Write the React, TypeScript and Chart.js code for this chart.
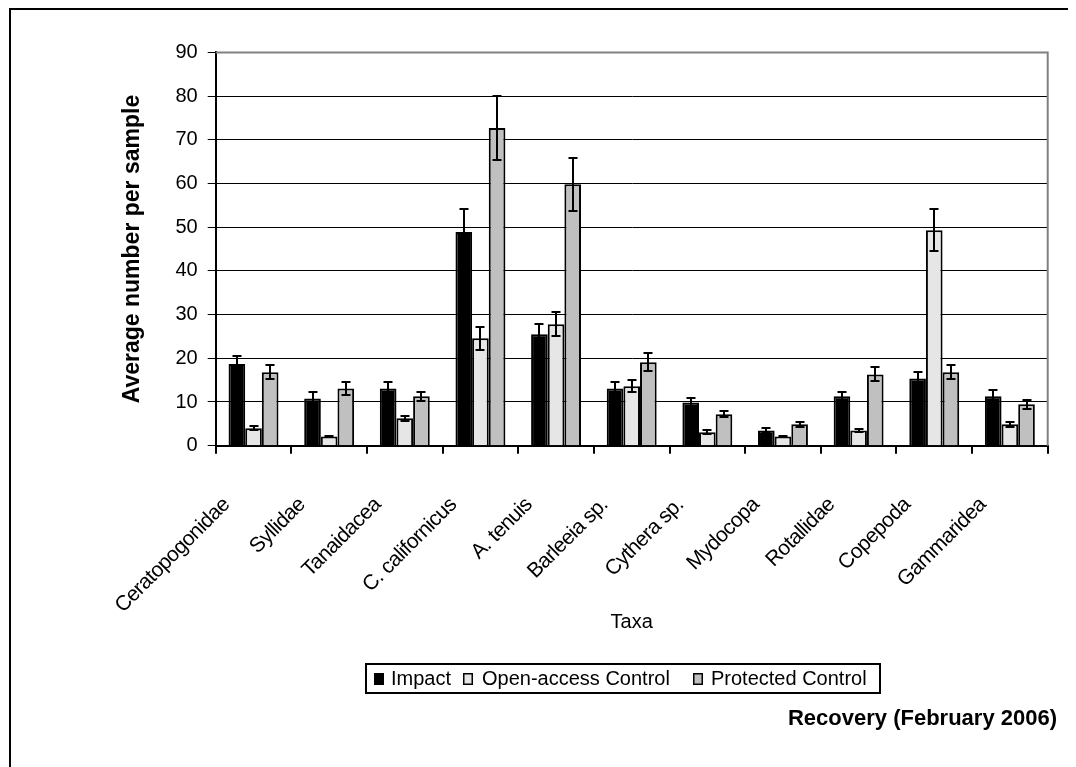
import React, { useEffect, useRef } from "react";
import { Chart, registerables } from "chart.js";

Chart.register(...registerables);

// ---------- data ----------
const categories = [
  "Ceratopogonidae",
  "Syllidae",
  "Tanaidacea",
  "C. californicus",
  "A. tenuis",
  "Barleeia sp.",
  "Cythera sp.",
  "Mydocopa",
  "Rotallidae",
  "Copepoda",
  "Gammaridea",
];

const seriesNames = ["Impact", "Open-access Control", "Protected Control"];

const impact = [18.7, 10.8, 13.1, 48.9, 25.5, 13.1, 9.9, 3.5, 11.3, 15.4, 11.3];
const impactErr = [1.9, 1.5, 1.5, 5.2, 2.4, 1.5, 1.1, 0.6, 1.1, 1.5, 1.5];

const openAccess = [4.0, 2.1, 6.3, 24.6, 27.8, 13.6, 3.1, 2.1, 3.5, 49.3, 4.9];
const openAccessErr = [0.5, 0.2, 0.6, 2.6, 2.8, 1.4, 0.5, 0.2, 0.3, 4.8, 0.55];

const protectedCtl = [16.8, 13.1, 11.3, 72.7, 59.8, 19.1, 7.2, 4.9, 16.3, 16.8, 9.5];
const protectedErr = [1.6, 1.4, 1.1, 7.3, 6.0, 2.1, 0.7, 0.55, 1.6, 1.6, 1.0];

const yTicks = [0, 10, 20, 30, 40, 50, 60, 70, 80, 90];

const yTitle = "Average number per sample";
const xTitle = "Taxa";
const chartTitle = "Recovery (February 2006)";

const seriesColors = ["#000000", "#E6E6E6", "#C0C0C0"];
const errorSets = [impactErr, openAccessErr, protectedErr];

const FONT = "'Liberation Sans', Arial, sans-serif";

// ---------- plugins ----------
const errorBarsPlugin = {
  id: "errorBars",
  afterDatasetsDraw(chart: any) {
    const ctx = chart.ctx;
    const ys = chart.scales.y;
    ctx.save();
    ctx.strokeStyle = "#000";
    ctx.lineWidth = 2;
    chart.data.datasets.forEach((ds: any, i: number) => {
      const meta = chart.getDatasetMeta(i);
      const errs = errorSets[i];
      meta.data.forEach((el: any, j: number) => {
        const v = ds.data[j];
        const e = errs[j];
        const x = Math.round(el.x);
        const t = Math.round(ys.getPixelForValue(v + e));
        const b = Math.round(ys.getPixelForValue(Math.max(0, v - e)));
        ctx.beginPath();
        ctx.moveTo(x, t);
        ctx.lineTo(x, b);
        ctx.moveTo(x - 4.5, t);
        ctx.lineTo(x + 4.5, t);
        ctx.moveTo(x - 4.5, b);
        ctx.lineTo(x + 4.5, b);
        ctx.stroke();
      });
    });
    ctx.restore();
  },
};

const decorPlugin = {
  id: "decor",
  beforeDatasetsDraw(chart: any) {
    const ctx = chart.ctx;
    const a = chart.chartArea;
    ctx.save();
    ctx.strokeStyle = "#808080";
    ctx.lineWidth = 2;
    ctx.beginPath();
    ctx.moveTo(a.left, a.top);
    ctx.lineTo(a.right, a.top);
    ctx.lineTo(a.right, a.bottom);
    ctx.stroke();
    ctx.restore();
  },
  afterDraw(chart: any) {
    const ctx = chart.ctx;
    const a = chart.chartArea;
    const xs = chart.scales.x;
    const W = chart.width;
    const H = chart.height;

    ctx.save();
    // outer frame (only top and left visible)
    ctx.strokeStyle = "#000";
    ctx.lineWidth = 2;
    ctx.beginPath();
    ctx.moveTo(2, H + 5);
    ctx.lineTo(2, 1);
    ctx.lineTo(W + 5, 1);
    ctx.stroke();

    ctx.fillStyle = "#000";

    // y axis title
    ctx.save();
    ctx.translate(125, (a.top + a.bottom) / 2);
    ctx.rotate(-Math.PI / 2);
    ctx.font = `bold 23px ${FONT}`;
    ctx.textAlign = "center";
    ctx.textBaseline = "middle";
    ctx.fillText(yTitle, 0, 0);
    ctx.restore();

    // x category labels, rotated 45deg
    categories.forEach((c, i) => {
      const cx = xs.getPixelForValue(i);
      ctx.save();
      ctx.translate(cx - 23, a.bottom + 60);
      ctx.rotate(-Math.PI / 4);
      ctx.font = `21px ${FONT}`;
      (ctx as any).letterSpacing = "-0.6px";
      ctx.textAlign = "right";
      ctx.textBaseline = "alphabetic";
      ctx.fillText(c, 0, 0);
      ctx.restore();
    });

    // x title
    ctx.font = `20px ${FONT}`;
    ctx.textAlign = "center";
    ctx.textBaseline = "middle";
    ctx.fillText(xTitle, (a.left + a.right) / 2, 614);

    // legend
    const lx = 358, ly = 656, lw = 514, lh = 29;
    ctx.lineWidth = 2;
    ctx.strokeStyle = "#000";
    ctx.strokeRect(lx, ly, lw, lh);
    const markerX = [366, 455, 685];
    const textX = [383, 474, 703];
    ctx.font = `20px ${FONT}`;
    ctx.textAlign = "left";
    ctx.textBaseline = "middle";
    seriesNames.forEach((n, i) => {
      ctx.fillStyle = seriesColors[i];
      ctx.fillRect(markerX[i], ly + 9, 10, 12);
      ctx.lineWidth = 1.5;
      ctx.strokeStyle = "#000";
      ctx.strokeRect(markerX[i] + 0.75, ly + 9.75, 8.5, 10.5);
      ctx.fillStyle = "#000";
      ctx.fillText(n, textX[i], ly + lh / 2 + 1);
    });

    // chart title bottom right
    ctx.font = `bold 22px ${FONT}`;
    ctx.textAlign = "right";
    ctx.textBaseline = "middle";
    ctx.fillText(chartTitle, 1049, 711);
    ctx.restore();
  },
};

export default function App() {
  const ref = useRef<HTMLCanvasElement>(null);
  useEffect(() => {
    const mk = (i: number, data: number[]) => ({
      label: seriesNames[i],
      data,
      backgroundColor: seriesColors[i],
      borderColor: "#000",
      borderWidth: 2,
    });
    const chart = new Chart(ref.current!, {
      type: "bar",
      data: {
        labels: categories,
        datasets: [mk(0, impact), mk(1, openAccess), mk(2, protectedCtl)],
      },
      options: {
        responsive: false,
        devicePixelRatio: 1,
        animation: false,
        layout: { padding: { left: 100, top: 44.4, right: 28.3, bottom: 301.3 } },
        datasets: { bar: { categoryPercentage: 0.66, barPercentage: 1 } },
        plugins: {
          legend: { display: false },
          title: { display: false },
          tooltip: { enabled: false },
        },
        scales: {
          x: {
            grid: {
              offset: true,
              drawOnChartArea: false,
              drawTicks: true,
              tickLength: 8,
              color: "#000",
              lineWidth: 2,
            },
            border: { display: true, color: "#000", width: 2 },
            ticks: { display: false },
            afterFit: (s: any) => {
              s.height = 20;
            },
          },
          y: {
            min: yTicks[0],
            max: yTicks[yTicks.length - 1],
            afterBuildTicks: (s: any) => {
              s.ticks = yTicks.map((v) => ({ value: v }));
            },
            ticks: {
              color: "#000",
              padding: 10,
              font: { family: FONT, size: 20 },
            },
            grid: {
              color: (c: any) => (c.tick && c.tick.value === 90 ? "#808080" : "#000"),
              lineWidth: 1,
              tickColor: "#000",
              tickLength: 8,
            },
            border: { display: true, color: "#000", width: 2 },
            afterFit: (s: any) => {
              s.width = 107.7;
            },
          },
        },
      } as any,
      plugins: [decorPlugin, errorBarsPlugin],
    });
    return () => chart.destroy();
  }, []);
  return (
    <div style={{ width: 1068, height: 759 }}>
      <canvas ref={ref} width={1068} height={759} />
    </div>
  );
}
